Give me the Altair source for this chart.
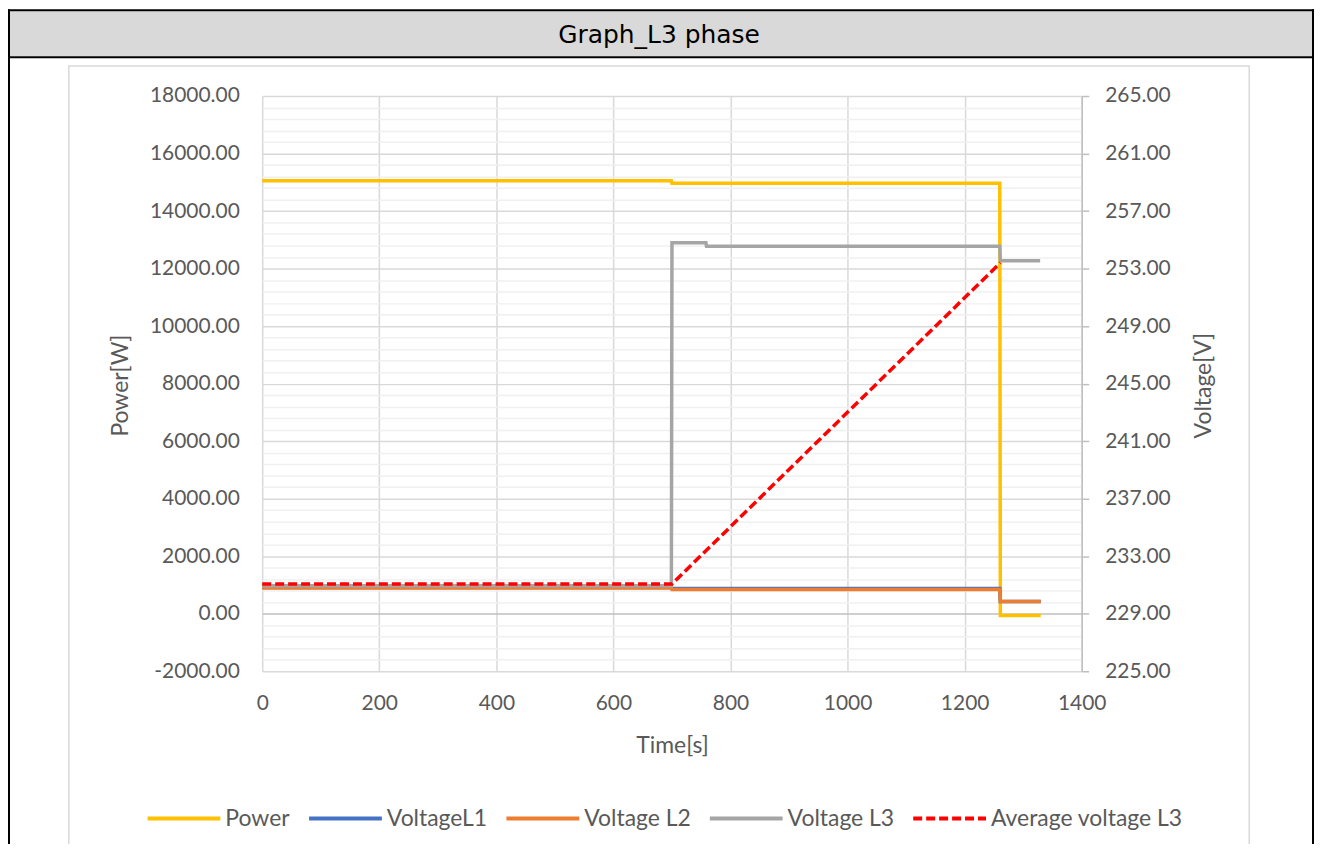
import altair as alt
import pandas as pd

# ---------------- data ----------------
series_names = ["Power", "VoltageL1", "Voltage L2", "Voltage L3", "Average voltage L3"]
series_colors = ["#FFC000", "#4472C4", "#ED7D31", "#A5A5A5", "#FF0000"]

power_time = [0, 699, 700, 1260, 1261, 1330]
power_watt = [15050, 15050, 14970, 14970, -60, -60]

l1_time = [0, 699, 700, 1260, 1261, 1330]
l1_volt = [230.82, 230.82, 230.76, 230.76, 229.85, 229.85]

l2_time = [0, 699, 700, 1260, 1261, 1330]
l2_volt = [230.78, 230.78, 230.68, 230.68, 229.85, 229.85]

l3_time = [0, 699, 700, 758, 759, 1260, 1261, 1329]
l3_volt = [230.95, 230.95, 254.8, 254.8, 254.55, 254.55, 253.55, 253.55]

avg_time = [0, 700, 1261]
avg_volt = [231.07, 231.07, 253.4]

time_ticks = [0, 200, 400, 600, 800, 1000, 1200, 1400]
power_ticks = list(range(-2000, 18001, 400))
volt_ticks = [225, 229, 233, 237, 241, 245, 249, 253, 257, 261, 265]

title_text = "Graph_L3 phase"

# ---------------- styles ----------------
W, H = 822, 577
FONT = "Lato"
TXT = "#595959"

legend = alt.Legend(
    title=None, orient="none", legendX=-117, legendY=686, direction="horizontal",
    symbolType="stroke", symbolSize=5329, symbolStrokeWidth=4,
    labelFont=FONT, labelFontSize=23, labelColor=TXT, labelOffset=3,
    columnPadding=11, padding=0, labelLimit=400,
)
color_enc = alt.Color("series:N", scale=alt.Scale(domain=series_names, range=series_colors), legend=legend)
dash_enc = alt.StrokeDash(
    "series:N",
    scale=alt.Scale(domain=series_names, range=[[1, 0], [1, 0], [1, 0], [1, 0], [9, 4]]),
    legend=legend,
)

x_enc = alt.X(
    "t:Q",
    scale=alt.Scale(domain=[0, 1400], nice=False, zero=False),
    axis=alt.Axis(
        values=time_ticks, format="d", grid=True, gridColor="#d9d9d9", gridWidth=1.5,
        ticks=False, tickSize=0, domain=False, labelPadding=21, labelFlush=False,
        labelFont=FONT, labelFontSize=21, labelColor=TXT,
        title="Time[s]", titleFont=FONT, titleFontSize=23, titleColor=TXT,
        titleFontWeight="normal", titleY=74, titleBaseline="middle",
    ),
)

power_y = alt.Y(
    "v:Q",
    scale=alt.Scale(domain=[-2000, 18000], nice=False, zero=False),
    axis=alt.Axis(
        orient="left", values=power_ticks, grid=True,
        gridColor={"condition": [{"test": "datum.value === 0", "value": "#bfbfbf"},
                                 {"test": "datum.value % 2000 === 0", "value": "#d9d9d9"}],
                   "value": "#f0f0f0"},
        gridWidth=1.5,
        labelExpr="datum.value % 2000 === 0 ? replace(format(datum.value, '.2f'), '\u2212', '-') : ''",
        labelOverlap=False, labelFlush=False, ticks=False, tickSize=0, domain=False, labelPadding=23,
        labelFont=FONT, labelFontSize=21, labelColor=TXT,
        title="Power[W]", titleFont=FONT, titleFontSize=23, titleColor=TXT,
        titleFontWeight="normal", titleX=-142, titleY=290, titleAngle=270,
        titleAlign="center", titleBaseline="middle",
    ),
)

volt_y = alt.Y(
    "v:Q",
    scale=alt.Scale(domain=[225, 265], nice=False, zero=False),
    axis=alt.Axis(
        orient="right", values=volt_ticks, format=".2f", grid=False, labelFlush=False,
        ticks=True, tickSize=7, tickColor="#bfbfbf", tickWidth=1.5,
        domain=True, domainColor="#bfbfbf", domainWidth=1.5, labelPadding=16,
        labelFont=FONT, labelFontSize=21, labelColor=TXT,
        title="Voltage[V]", titleFont=FONT, titleFontSize=23, titleColor=TXT,
        titleFontWeight="normal", titleX=122, titleY=290, titleAngle=270,
        titleAlign="center", titleBaseline="middle",
    ),
)


def series_df(times, values, name):
    return pd.DataFrame({"t": times, "v": values, "series": [name] * len(times)})


def line(df, y_enc, width=3.5):
    return alt.Chart(df).mark_line(strokeWidth=width, strokeCap="butt").encode(
        x=x_enc, y=y_enc, color=color_enc, strokeDash=dash_enc
    )


power_layer = line(series_df(power_time, power_watt, series_names[0]), power_y)
volt_layer = alt.layer(
    line(series_df(l1_time, l1_volt, series_names[1]), volt_y),
    line(series_df(l2_time, l2_volt, series_names[2]), volt_y),
    line(series_df(l3_time, l3_volt, series_names[3]), volt_y),
    line(series_df(avg_time, avg_volt, series_names[4]), volt_y, width=3.5),
)

# ---------------- table frame decorations ----------------
dummy = pd.DataFrame({"k": [0]})


def frame_rect(x1, x2, y1, y2, fill):
    return alt.Chart(dummy).mark_rect(fill=fill, stroke=None).encode(
        x=alt.value(x1), x2=alt.value(x2), y=alt.value(y1), y2=alt.value(y2)
    )


frames = [
    frame_rect(-253, 1053, -85, -40, "#d9d9d9"),
    frame_rect(-255, 1055, -87, -85, "#000000"),
    frame_rect(-255, 1055, -40, -38, "#000000"),
    frame_rect(-255, -253, -87, 760, "#000000"),
    frame_rect(1053, 1055, -87, 760, "#000000"),
    alt.Chart(dummy).mark_rect(filled=False, stroke="#d9d9d9", strokeWidth=1.5).encode(
        x=alt.value(-194), x2=alt.value(990), y=alt.value(-30), y2=alt.value(762)
    ),
    alt.Chart(dummy).mark_text(
        text=title_text, font="DejaVu Sans", fontSize=25, color="#000000",
        align="center", baseline="middle",
    ).encode(x=alt.value(398), y=alt.value(-61)),
]

chart = (
    alt.layer(*frames, power_layer, volt_layer)
    .resolve_scale(y="independent")
    .properties(
        width=W, height=H,
        autosize=alt.AutoSizeParams(type="none"),
        padding={"left": 255, "top": 87, "right": 233, "bottom": 172},
        background="white",
    )
    .configure_view(stroke=None)
)

chart.save("out.html", embed_options={"renderer": "svg", "actions": False})
